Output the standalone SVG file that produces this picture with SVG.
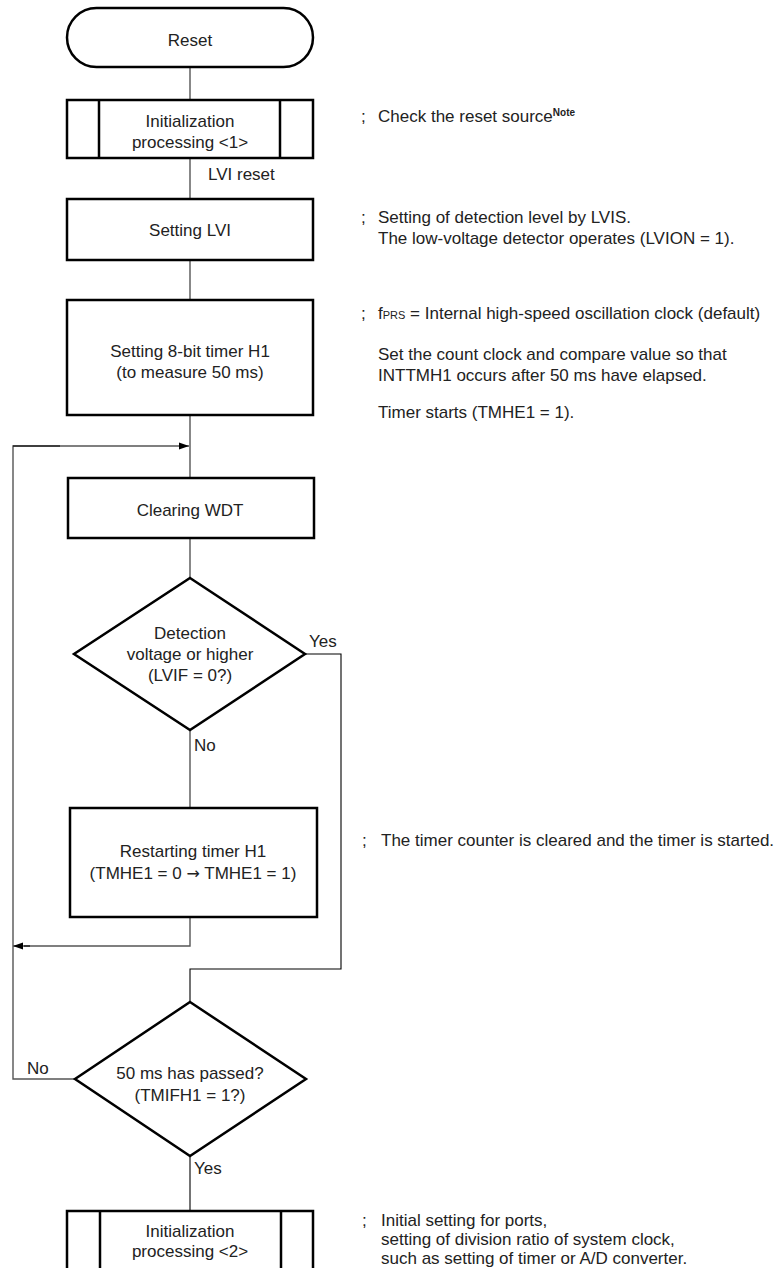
<svg xmlns="http://www.w3.org/2000/svg" width="776" height="1268" viewBox="0 0 776 1268">
<style>
.box{fill:#fff;stroke:#000;stroke-width:2.5}
.ln{fill:none;stroke:#555;stroke-width:1.4}
.al{fill:none;stroke:#000;stroke-width:1.1}
text{font-family:"Liberation Sans",Arial,sans-serif;font-size:17px;fill:#222}
.c{text-anchor:middle}
</style>
<defs>
<marker id="arr" markerUnits="userSpaceOnUse" markerWidth="11" markerHeight="8" refX="10" refY="4" orient="auto">
<path d="M0,0.5 L10,4 L0,7.5 z" fill="#000"/>
</marker>
</defs>
<rect width="776" height="1268" fill="#fff"/>
<g id="connectors">
<line class="ln" x1="190" y1="67" x2="190" y2="100"/>
<line class="ln" x1="190" y1="158" x2="190" y2="199"/>
<line class="ln" x1="190" y1="260" x2="190" y2="300"/>
<line class="ln" x1="190" y1="415" x2="190" y2="478"/>
<line class="ln" x1="190" y1="538" x2="190" y2="578"/>
<line class="ln" x1="190" y1="730" x2="190" y2="808"/>
<polyline class="ln" points="190,917 190,946 24,946"/>
<line class="al" x1="30" y1="946" x2="13" y2="946" marker-end="url(#arr)"/>
<polyline class="ln" points="75,1079 13,1079 13,446 60,446"/>
<line class="al" x1="13" y1="446" x2="189" y2="446" marker-end="url(#arr)"/>
<polyline class="al" points="305,654 341,654 341,969 190,969 190,1002"/>
<line class="al" x1="190" y1="1156" x2="190" y2="1211"/>
<text x="309" y="647">Yes</text>
<text x="194" y="751">No</text>
<text x="27" y="1074">No</text>
<text x="194" y="1174">Yes</text>
<text x="208" y="180">LVI reset</text>
</g>
<g id="reset">
<rect class="box" x="67" y="8" width="246" height="59" rx="29.5"/>
<text class="c" x="190" y="46">Reset</text>
</g>
<g id="init1">
<rect class="box" x="67" y="100" width="246" height="58"/>
<line class="box" x1="99" y1="100" x2="99" y2="158"/>
<line class="box" x1="280" y1="100" x2="280" y2="158"/>
<text class="c" x="190" y="127">Initialization</text>
<text class="c" x="190" y="148">processing &lt;1&gt;</text>
</g>
<g id="setlvi">
<rect class="box" x="67" y="199" width="246" height="61"/>
<text class="c" x="190" y="236">Setting LVI</text>
</g>
<g id="settimer">
<rect class="box" x="67" y="300" width="246" height="115"/>
<text class="c" x="190" y="357">Setting 8-bit timer H1</text>
<text class="c" x="190" y="378">(to measure 50 ms)</text>
</g>
<g id="wdt">
<rect class="box" x="68" y="478" width="246" height="60"/>
<text class="c" x="190" y="516">Clearing WDT</text>
</g>
<g id="dec1">
<polygon class="box" points="190,578 305,654 190,730 74,654"/>
<text class="c" x="190" y="639">Detection</text>
<text class="c" x="190" y="660">voltage or higher</text>
<text class="c" x="190" y="681">(LVIF = 0?)</text>
</g>
<g id="restart">
<rect class="box" x="70" y="808" width="247" height="109"/>
<text class="c" x="193" y="857">Restarting timer H1</text>
<text class="c" x="193" y="879">(TMHE1 = 0 <tspan font-family="DejaVu Sans, sans-serif" font-size="16">→</tspan> TMHE1 = 1)</text>
</g>
<g id="dec2">
<polygon class="box" points="190,1002 306,1079 190,1156 75,1079"/>
<text class="c" x="190" y="1079">50 ms has passed?</text>
<text class="c" x="190" y="1101">(TMIFH1 = 1?)</text>
</g>
<g id="init2">
<rect class="box" x="67" y="1211" width="246" height="80"/>
<line class="box" x1="100" y1="1211" x2="100" y2="1291"/>
<line class="box" x1="281" y1="1211" x2="281" y2="1291"/>
<text class="c" x="190" y="1237">Initialization</text>
<text class="c" x="190" y="1257">processing &lt;2&gt;</text>
</g>
<g id="notes">
<text x="361" y="122">;</text>
<text x="378" y="122">Check the reset source<tspan font-size="10" font-weight="bold" dy="-6">Note</tspan></text>
<text x="361" y="223">;</text>
<text x="378" y="223">Setting of detection level by LVIS.</text>
<text x="378" y="244">The low-voltage detector operates (LVION = 1).</text>
<text x="361" y="319">;</text>
<text x="378" y="319">f<tspan font-size="11">PRS</tspan> = Internal high-speed oscillation clock (default)</text>
<text x="378" y="360">Set the count clock and compare value so that</text>
<text x="378" y="381">INTTMH1 occurs after 50 ms have elapsed.</text>
<text x="378" y="418">Timer starts (TMHE1 = 1).</text>
<text x="362" y="846">;</text>
<text x="381" y="846">The timer counter is cleared and the timer is started.</text>
<text x="362" y="1226">;</text>
<text x="381" y="1226">Initial setting for ports,</text>
<text x="381" y="1245">setting of division ratio of system clock,</text>
<text x="381" y="1264">such as setting of timer or A/D converter.</text>
</g>
</svg>
